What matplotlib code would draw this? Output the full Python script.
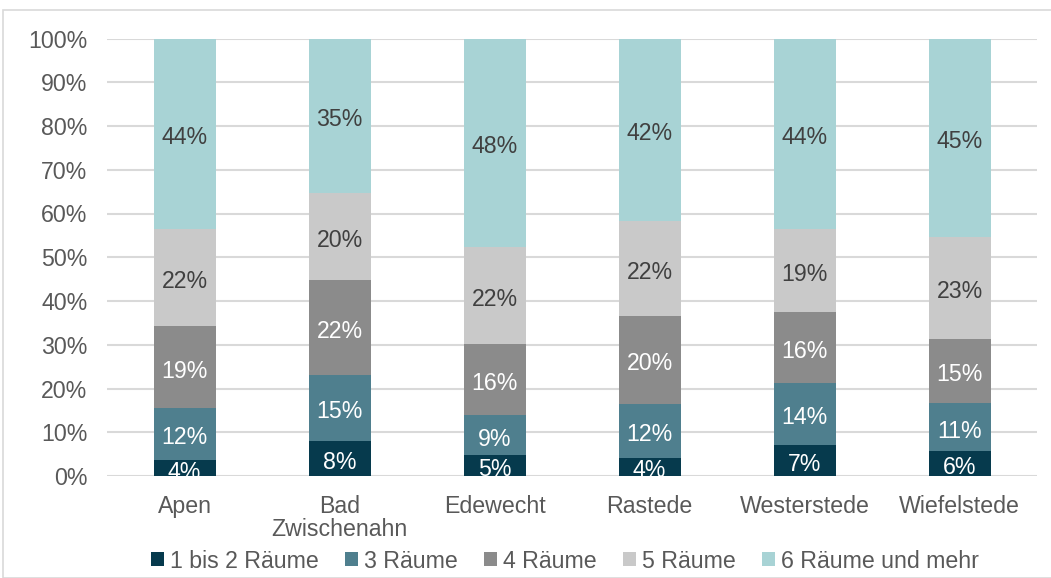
import matplotlib
matplotlib.use("Agg")
import matplotlib.pyplot as plt
from matplotlib.patches import Rectangle
from matplotlib.transforms import offset_copy
import numpy as np

plt.rcParams['font.family'] = ['Liberation Sans', 'DejaVu Sans']

categories = ["Apen", "Bad\nZwischenahn", "Edewecht", "Rastede", "Westerstede", "Wiefelstede"]
series_names = ["1 bis 2 Räume", "3 Räume", "4 Räume", "5 Räume", "6 Räume und mehr"]
r1_2 = [3.6, 8.0, 4.8, 4.2, 7.1, 5.7]
r3 = [12.0, 15.1, 9.1, 12.3, 14.2, 11.0]
r4 = [18.6, 21.7, 16.2, 20.1, 16.2, 14.7]
r5 = [22.2, 19.9, 22.3, 21.7, 18.9, 23.2]
r6 = [43.6, 35.3, 47.6, 41.7, 43.6, 45.4]
series = [r1_2, r3, r4, r5, r6]
colors = ["#063A4D", "#4F7F8E", "#8B8B8B", "#C9C9C9", "#A8D3D5"]
label_colors = ["white", "white", "white", "#404040", "#404040"]
yticks = [0, 10, 20, 30, 40, 50, 60, 70, 80, 90, 100]

FS = 16.7
fig = plt.figure(figsize=(10.51, 5.78), dpi=100)
# outer chart border
fig.patches.append(Rectangle((3/1051, 0), 1.2, (578-10)/578, transform=fig.transFigure,
                             fill=False, edgecolor="#D9D9D9", linewidth=1.2, zorder=0))
ax = fig.add_axes([107/1051, 1-476/578, (1037-107)/1051, (476-38.5)/578])

x = np.arange(len(categories))
bottom = np.zeros(len(categories))
txt_tr = offset_copy(ax.transData, fig=fig, x=0, y=-4, units='dots')
for vals, c, lc, name in zip(series, colors, label_colors, series_names):
    vals = np.array(vals)
    ax.bar(x, vals, bottom=bottom, width=0.4, color=c, label=name, zorder=3)
    for xi, b, v in zip(x, bottom, vals):
        top = min(b + v, 100)
        ax.text(xi, (b + top) / 2, f"{v:.0f}%", ha="center", va="center",
                color=lc, fontsize=FS, zorder=4, transform=txt_tr, clip_on=True)
    bottom += vals

ax.set_ylim(0, 100)
ax.set_xlim(-0.5, len(categories) - 0.5)
ax.set_yticks(yticks)
ax.set_yticklabels([f"{t}%" for t in yticks])
ax.yaxis.grid(True, color="#D9D9D9", linewidth=1.5, zorder=0)
ax.set_axisbelow(True)
ax.set_xticks(x)
ax.set_xticklabels(categories, linespacing=0.95)
for s in ax.spines.values():
    s.set_visible(False)
ax.tick_params(axis="both", length=0, labelsize=FS, colors="#595959")
ax.tick_params(axis="y", pad=14)
ax.tick_params(axis="x", pad=14)

leg = fig.legend(loc="center", bbox_to_anchor=(565/1051, 1-561/578), ncol=5, frameon=False,
                 fontsize=FS, handlelength=0.55, handleheight=0.55, handletextpad=0.25,
                 columnspacing=1.15, labelcolor="#595959")

fig.savefig("out.png", dpi=100)
